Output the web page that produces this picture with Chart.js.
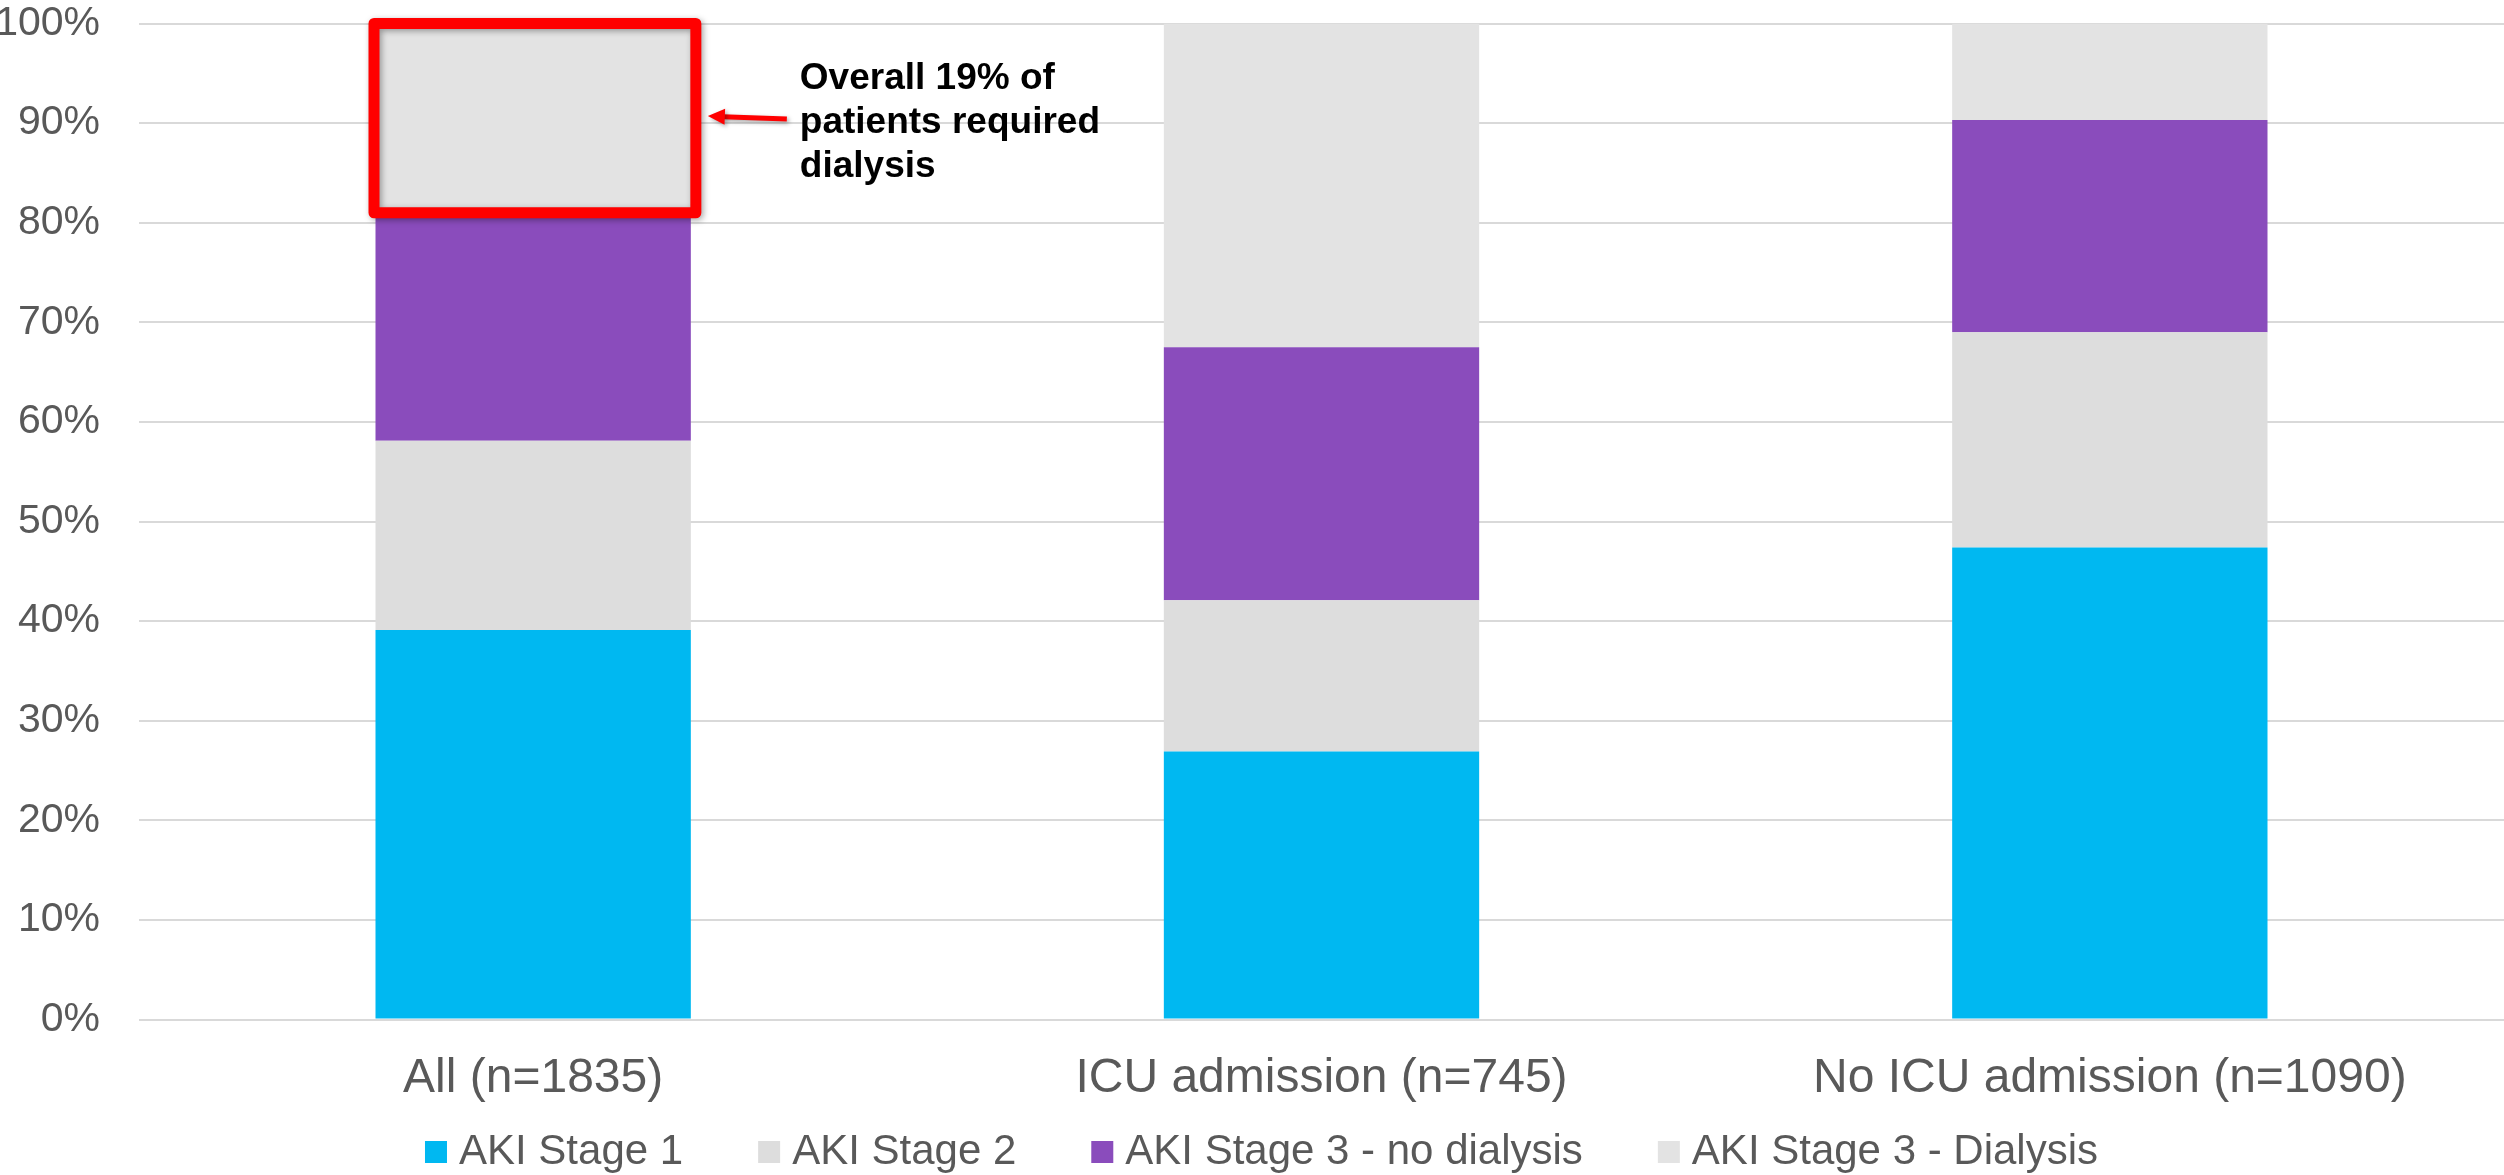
<!DOCTYPE html>
<html>
<head>
<meta charset="utf-8">
<title>AKI stage by ICU admission</title>
<script src="https://cdn.jsdelivr.net/npm/chart.js@4.4.1/dist/chart.umd.min.js"></script>
<style>
  html, body { margin: 0; padding: 0; background: #ffffff; }
  canvas { display: block; }
</style>
</head>
<body>
<canvas id="akiChart" width="2504" height="1175"></canvas>
<script>
// Groups on the x axis
const categories = ['All (n=1835)', 'ICU admission (n=745)', 'No ICU admission (n=1090)'];

// Share of patients in each AKI stage (%), stacked bottom to top
const stage1 = [39.1, 26.9, 47.4];
const stage2 = [19.0, 15.2, 21.6];
const stage3NoDialysis = [22.9, 25.4, 21.3];
const stage3Dialysis = [19.0, 32.5, 9.7];

const seriesNames = ['AKI Stage 1', 'AKI Stage 2', 'AKI Stage 3 - no dialysis', 'AKI Stage 3 - Dialysis'];
const seriesColors = ['#00B8F1', '#DDDDDD', '#8A4CBC', '#E3E3E3'];

// Y axis: 0% to 100% in steps of 10
const yMin = 0;
const yMax = 100;
const yStep = 10;

// Callout text next to the dialysis segment of the first bar
const calloutLines = ['Overall 19% of', 'patients required', 'dialysis'];
const calloutSeries = 3;
const calloutCategory = 0;

const FONT = "'Liberation Sans', Arial, Helvetica, sans-serif";
const TEXT_GREY = '#595959';
const GRID_GREY = '#D9D9D9';

// Red outline, arrow and note around one bar segment
const calloutPlugin = {
  id: 'dialysisCallout',
  afterDatasetsDraw(chart) {
    const el = chart.getDatasetMeta(calloutSeries).data[calloutCategory];
    if (!el) return;
    const p = el.getProps(['x', 'y', 'base', 'width'], true);
    const ctx = chart.ctx;
    const left = p.x - p.width / 2 - 1.5;
    const right = p.x + p.width / 2 + 5;
    const top = Math.min(p.y, p.base);
    const bottom = Math.max(p.y, p.base);
    const mid = (top + bottom) / 2;

    ctx.save();
    ctx.shadowColor = 'rgba(0,0,0,0.35)';
    ctx.shadowBlur = 6;
    ctx.shadowOffsetX = 2;
    ctx.shadowOffsetY = 2;
    ctx.strokeStyle = '#FF0000';
    ctx.lineWidth = 11;
    ctx.lineJoin = 'round';
    ctx.strokeRect(left, top, right - left, bottom - top);

    // arrow pointing back at the outline
    const tipX = right + 12, tipY = mid - 2;
    const tailX = right + 91, tailY = mid + 1;
    const ang = Math.atan2(tipY - tailY, tipX - tailX);
    const headLen = 17, headHalf = 8;
    const baseX = tipX - headLen * Math.cos(ang);
    const baseY = tipY - headLen * Math.sin(ang);
    ctx.shadowBlur = 4;
    ctx.lineWidth = 5;
    ctx.lineCap = 'butt';
    ctx.fillStyle = '#FF0000';
    ctx.beginPath();
    ctx.moveTo(tailX, tailY);
    ctx.lineTo(baseX + 2 * Math.cos(ang), baseY + 2 * Math.sin(ang));
    ctx.stroke();
    ctx.beginPath();
    ctx.moveTo(tipX, tipY);
    ctx.lineTo(baseX - headHalf * Math.sin(ang), baseY + headHalf * Math.cos(ang));
    ctx.lineTo(baseX + headHalf * Math.sin(ang), baseY - headHalf * Math.cos(ang));
    ctx.closePath();
    ctx.fill();
    ctx.restore();

    // note text
    ctx.save();
    ctx.fillStyle = '#000000';
    ctx.font = 'bold 37px ' + FONT;
    ctx.textAlign = 'left';
    ctx.textBaseline = 'alphabetic';
    const textX = right + 104;
    const firstBaseline = mid - 29;
    calloutLines.forEach((line, i) => {
      ctx.fillText(line, textX, firstBaseline + i * 44);
    });
    ctx.restore();
  }
};

// Single-row legend under the axis labels: small square, tight gap, label
const bottomLegendPlugin = {
  id: 'bottomLegend',
  afterDraw(chart) {
    const ctx = chart.ctx;
    const box = 22, gap = 12, spacing = 75, fontSize = 42;
    ctx.save();
    ctx.font = fontSize + 'px ' + FONT;
    ctx.textAlign = 'left';
    ctx.textBaseline = 'middle';
    const items = chart.data.datasets.map(ds => ({
      text: ds.label,
      color: ds.backgroundColor,
      w: box + gap + ctx.measureText(ds.label).width
    }));
    const total = items.reduce((s, it) => s + it.w, 0) + spacing * (items.length - 1);
    const centerX = chart.width / 2 + 9.5;
    const centerY = chart.height - 23;
    let x = centerX - total / 2;
    items.forEach(it => {
      ctx.fillStyle = it.color;
      ctx.fillRect(x, centerY - box / 2, box, box);
      ctx.fillStyle = TEXT_GREY;
      ctx.fillText(it.text, x + box + gap, centerY);
      x += it.w + spacing;
    });
    ctx.restore();
  }
};

const seriesValues = [stage1, stage2, stage3NoDialysis, stage3Dialysis];

new Chart(document.getElementById('akiChart'), {
  type: 'bar',
  data: {
    labels: categories,
    datasets: seriesValues.map((vals, i) => ({
      label: seriesNames[i],
      data: vals,
      backgroundColor: seriesColors[i],
      borderWidth: 0,
      barPercentage: 0.4,
      categoryPercentage: 1.0
    }))
  },
  options: {
    responsive: false,
    devicePixelRatio: 1,
    animation: false,
    layout: { padding: { top: 23.5, left: 0, right: 0, bottom: 0 } },
    plugins: {
      tooltip: { enabled: false },
      legend: { display: false }
    },
    scales: {
      x: {
        stacked: true,
        grid: { display: false, drawTicks: false },
        border: { display: false },
        ticks: {
          color: TEXT_GREY,
          padding: 30,
          maxRotation: 0,
          autoSkip: false,
          font: { family: FONT, size: 48 }
        },
        afterFit(scale) { scale.height = 155.5; }
      },
      y: {
        stacked: true,
        min: yMin,
        max: yMax,
        grid: { color: GRID_GREY, lineWidth: 2, drawTicks: false },
        border: { display: false },
        ticks: {
          stepSize: yStep,
          padding: 39,
          color: TEXT_GREY,
          font: { family: FONT, size: 41 },
          callback: v => v + '%'
        },
        afterFit(scale) {
          scale.width = 139;
          scale.paddingTop = 0;
          scale.paddingBottom = 0;
        }
      }
    }
  },
  plugins: [calloutPlugin, bottomLegendPlugin]
});
</script>
</body>
</html>
